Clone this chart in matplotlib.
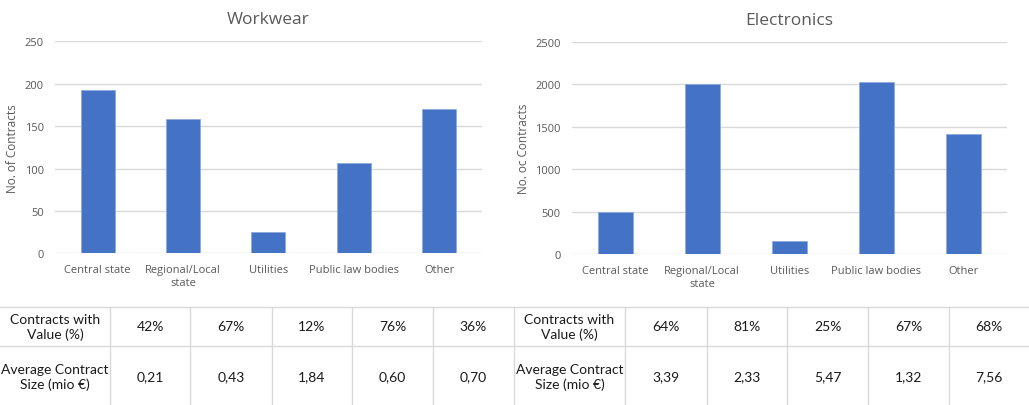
import matplotlib
matplotlib.use("Agg")
import matplotlib.pyplot as plt
from matplotlib.lines import Line2D

categories = ["Central state", "Regional/Local\nstate", "Utilities", "Public law bodies", "Other"]
workwear_counts = [193, 158, 25, 106, 170]
electronics_counts = [500, 2000, 155, 2025, 1415]
workwear_value_pct = [42, 67, 12, 76, 36]
workwear_avg_size = [0.21, 0.43, 1.84, 0.60, 0.70]
electronics_value_pct = [64, 81, 25, 67, 68]
electronics_avg_size = [3.39, 2.33, 5.47, 1.32, 7.56]
row_labels = ["Contracts with\nValue (%)", "Average Contract\nSize (mio €)"]

W, H = 1029, 406
fig = plt.figure(figsize=(W / 100, H / 100), dpi=100)
fig.patch.set_facecolor("white")

BAR = "#4472C4"
GRID = "#D9D9D9"
TXT = "#595959"
CHART_FONT = ["Open Sans", "DejaVu Sans"]
TABLE_FONT = ["Lato", "DejaVu Sans"]


def px(x0, y0, x1, y1):
    return [x0 / W, 1 - y1 / H, (x1 - x0) / W, (y1 - y0) / H]


def draw_chart(rect, values, ymax, step, title, ylabel):
    ax = fig.add_axes(rect)
    x = list(range(len(categories)))
    ax.bar(x, values, width=0.4, color=BAR, edgecolor="#8FAADC", linewidth=0.6, zorder=3)
    ax.set_xlim(-0.5, len(categories) - 0.5)
    ax.set_ylim(0, ymax)
    ax.set_yticks(range(0, ymax + 1, step))
    ax.yaxis.grid(True, color=GRID, linewidth=1.0, zorder=0)
    for s in ax.spines.values():
        s.set_visible(False)
    ax.tick_params(axis="both", length=0, colors=TXT, labelsize=8)
    ax.tick_params(axis="x", pad=8)
    ax.tick_params(axis="y", pad=8)
    ax.set_xticks(x)
    ax.set_xticklabels(categories, fontfamily=CHART_FONT, linespacing=1.25)
    for lab in ax.get_yticklabels():
        lab.set_fontfamily(CHART_FONT)
    ax.set_ylabel(ylabel, color=TXT, fontsize=8.5, fontfamily=CHART_FONT, labelpad=4)
    ax.set_title(title, color=TXT, fontsize=12.5, fontfamily=CHART_FONT, pad=13)
    return ax


draw_chart(px(55, 42.3, 481.7, 254.3), workwear_counts, 250, 50, "Workwear", "No. of Contracts")
draw_chart(px(571.7, 43, 1006.7, 255.3), electronics_counts, 2500, 500, "Electronics", "No. oc Contracts")

# Tables
top, mid, bot = 308, 347, 406
left_cols = [0, 110, 190, 272, 352, 433, 514]
right_cols = [514, 625, 707, 787, 868, 949, 1029]


def fx(v):
    return v / W


def fy(v):
    return 1 - v / H


for yy in (top, mid):
    fig.add_artist(Line2D([0, 1], [fy(yy), fy(yy)], color=GRID, linewidth=1.0,
                          transform=fig.transFigure))
for xx in left_cols[1:] + right_cols[1:-1]:
    fig.add_artist(Line2D([fx(xx), fx(xx)], [fy(top), fy(bot)], color=GRID, linewidth=1.0,
                          transform=fig.transFigure))


def fmt_pct(v):
    return f"{v}%"


def fmt_size(v):
    return f"{v:.2f}".replace(".", ",")


def draw_table(cols, pcts, sizes):
    rows_y = [(top + mid) / 2, (mid + bot) / 2 + 1]
    c0 = (cols[0] + cols[1]) / 2
    for ry, lab in zip(rows_y, row_labels):
        fig.text(fx(c0), fy(ry), lab, ha="center", va="center", fontsize=10,
                 color="#1a1a1a", fontfamily=TABLE_FONT, linespacing=1.15)
    for i in range(len(pcts)):
        cx = (cols[i + 1] + cols[i + 2]) / 2
        fig.text(fx(cx), fy(rows_y[0]), fmt_pct(pcts[i]), ha="center", va="center",
                 fontsize=10, color="#1a1a1a", fontfamily=TABLE_FONT)
        fig.text(fx(cx), fy(rows_y[1]), fmt_size(sizes[i]), ha="center", va="center",
                 fontsize=10, color="#1a1a1a", fontfamily=TABLE_FONT)


draw_table(left_cols, workwear_value_pct, workwear_avg_size)
draw_table(right_cols, electronics_value_pct, electronics_avg_size)

fig.savefig("out.png", dpi=100, facecolor="white")
